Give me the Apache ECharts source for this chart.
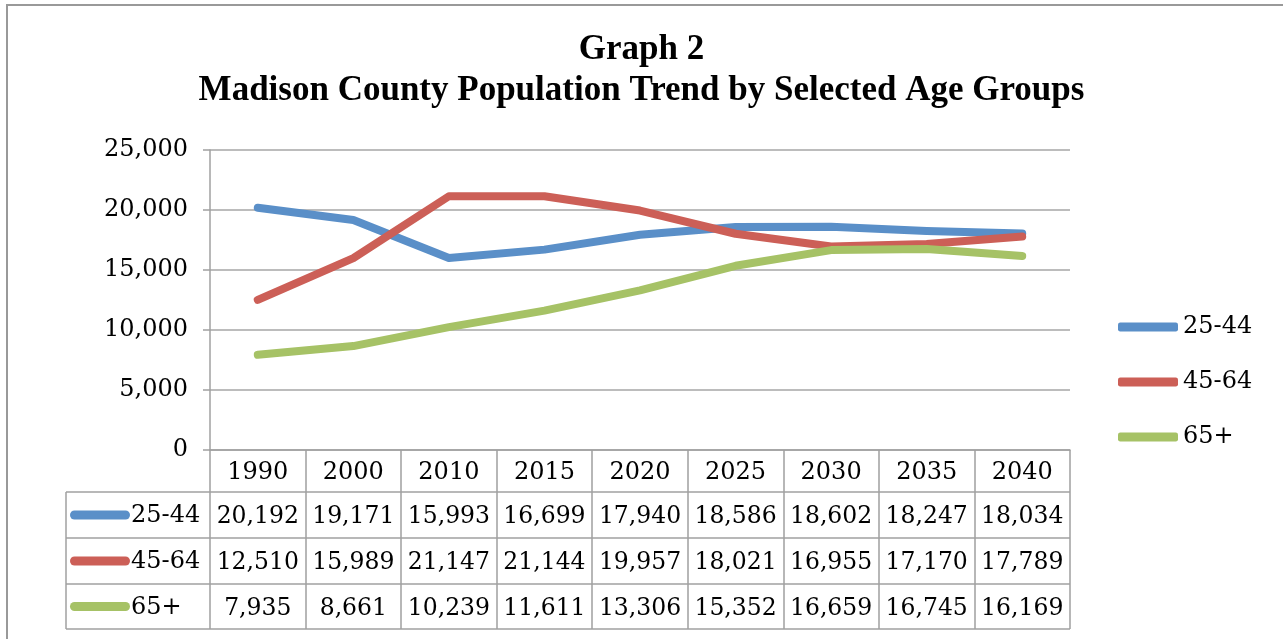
<!DOCTYPE html>
<html><head><meta charset="utf-8">
<script src="https://cdn.jsdelivr.net/npm/echarts@6/dist/echarts.min.js"></script>
<style>html,body{margin:0;padding:0;background:#fff}#c{width:1283px;height:639px}</style>
</head><body><div id="c"></div>
<script>
const years = ['1990','2000','2010','2015','2020','2025','2030','2035','2040'];
const seriesNames = ['25-44','45-64','65+'];
const pop2544 = [20192,19171,15993,16699,17940,18586,18602,18247,18034];
const pop4564 = [12510,15989,21147,21144,19957,18021,16955,17170,17789];
const pop65 = [7935,8661,10239,11611,13306,15352,16659,16745,16169];
const yTicks = [0,5000,10000,15000,20000,25000];

const colors = ['#5a8fc8','#cc5f57','#a6c266'];
const allData = [pop2544, pop4564, pop65];
const FONT = 'DejaVu Serif';
const fmt = v => v.toLocaleString('en-US');

const G = {left:210, right:213, top:150, bottom:189};
const W = 1283, H = 639;
const axisY = H - G.bottom;        // 450
const rowLines = [492, 538, 584, 629];
const rowOffsets = [44, 90, 136];
const tableLeft = 66;
const gridRight = W - G.right;

const chart = echarts.init(document.getElementById('c'), null, {renderer:'canvas'});

const xAxes = [{
  type:'category', data: years, boundaryGap:true, position:'bottom',
  axisLine:{show:true, lineStyle:{color:'#a0a0a0', width:1.5}},
  axisTick:{show:true, interval:0, length: rowLines[3]-axisY, inside:false, lineStyle:{color:'#a0a0a0', width:1.5}},
  axisLabel:{interval:0, margin:11, color:'#000', fontFamily:FONT, fontSize:24},
  splitLine:{show:false}
}];
allData.forEach((arr,i)=>{
  xAxes.push({
    type:'category', data: arr.map(fmt), boundaryGap:true, position:'bottom', offset: rowOffsets[i],
    axisLine:{show:false}, axisTick:{show:false}, splitLine:{show:false},
    axisLabel:{interval:0, margin:11, color:'#000', fontFamily:FONT, fontSize:23.5}
  });
});

const graphics = [
  {type:'rect', shape:{x:7, y:5, width:1400, height:800}, style:{fill:'none', stroke:'#999', lineWidth:2}, silent:true}
];
rowLines.forEach(y=>{
  graphics.push({type:'line', shape:{x1:tableLeft, y1:y, x2:gridRight, y2:y}, style:{stroke:'#a0a0a0', lineWidth:1.5}, silent:true});
});
graphics.push({type:'line', shape:{x1:tableLeft, y1:rowLines[0], x2:tableLeft, y2:rowLines[3]}, style:{stroke:'#a0a0a0', lineWidth:1.5}, silent:true});
seriesNames.forEach((n,i)=>{
  const cy = (rowLines[i]+rowLines[i+1])/2;
  graphics.push({type:'rect', shape:{x:70, y:cy-4.5, width:60, height:9, r:4.5}, style:{fill:colors[i]}, silent:true});
  graphics.push({type:'text', x:131, y:cy+1, style:{text:n, font:'24px "'+FONT+'"', fill:'#000', textVerticalAlign:'middle', verticalAlign:'middle'}, silent:true});
});

chart.setOption({
  animation:false,
  backgroundColor:'#fff',
  title:{
    text:'Graph 2\nMadison County Population Trend by Selected Age Groups',
    left:'center', top:24,
    textStyle:{fontFamily:'Liberation Serif', fontWeight:'bold', fontSize:35, lineHeight:41, color:'#000'}
  },
  legend:{
    orient:'vertical', left:1113, top:310, itemWidth:60, itemHeight:9, itemGap:31,
    icon:'roundRect',
    data: seriesNames,
    textStyle:{fontFamily:FONT, fontSize:24, color:'#000'}
  },
  grid:{left:G.left, right:G.right, top:G.top, bottom:G.bottom, containLabel:false},
  xAxis: xAxes,
  yAxis:{
    type:'value', min:yTicks[0], max:yTicks[yTicks.length-1], interval:5000,
    axisLine:{show:true, lineStyle:{color:'#a0a0a0', width:1.5}},
    axisTick:{show:true, length:7, lineStyle:{color:'#a0a0a0', width:1.5}},
    splitLine:{show:true, lineStyle:{color:'#a6a6a6', width:1.5}},
    axisLabel:{margin:22, color:'#000', fontFamily:FONT, fontSize:24, formatter: v => fmt(v), padding:[10,0,0,0]}
  },
  series: allData.map((arr,i)=>({
    name: seriesNames[i], type:'line', data: arr, xAxisIndex:0,
    showSymbol:false, symbol:'none', color: colors[i],
    lineStyle:{width:8, color:colors[i], cap:'round', join:'round'}
  })),
  graphic: graphics
});
</script>
</body></html>
